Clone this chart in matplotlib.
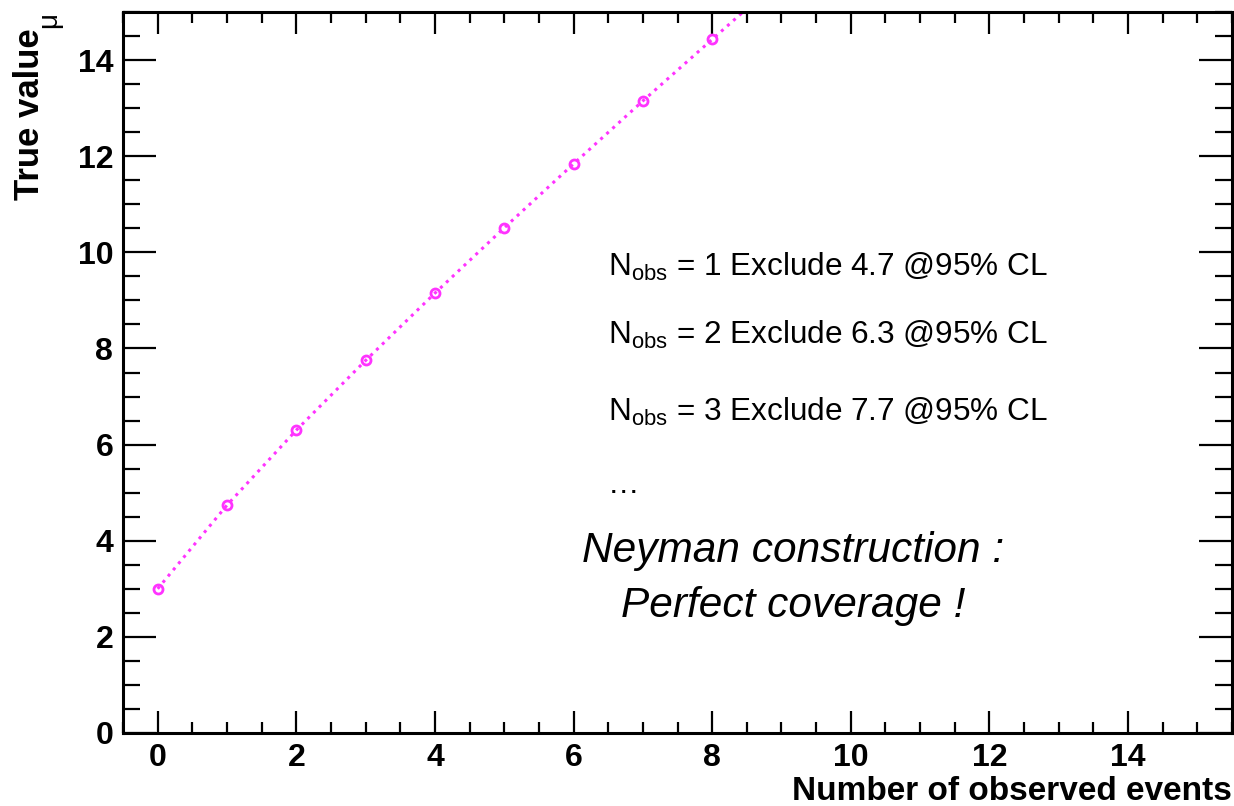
import matplotlib
matplotlib.use("Agg")
import matplotlib.pyplot as plt
from matplotlib.ticker import MultipleLocator

plt.rcParams['font.family'] = ['Liberation Sans', 'DejaVu Sans']
plt.rcParams['mathtext.fontset'] = 'custom'
plt.rcParams['mathtext.rm'] = 'Liberation Sans'
plt.rcParams['mathtext.it'] = 'Liberation Sans:italic'
plt.rcParams['mathtext.bf'] = 'Liberation Sans:bold'

# Data: observed events vs 95% CL upper limit on true value mu
n_obs = [0, 1, 2, 3, 4, 5, 6, 7, 8, 9, 10]
mu_upper = [3.00, 4.74, 6.30, 7.75, 9.15, 10.51, 11.84, 13.15, 14.43, 15.71, 16.96]

x_ticks = [0, 2, 4, 6, 8, 10, 12, 14]
y_ticks = [0, 2, 4, 6, 8, 10, 12, 14]

notes = [
    r"N$_{\mathrm{obs}}$ = 1 Exclude 4.7 @95% CL",
    r"N$_{\mathrm{obs}}$ = 2 Exclude 6.3 @95% CL",
    r"N$_{\mathrm{obs}}$ = 3 Exclude 7.7 @95% CL",
    "\u2026",
]
note_y = [9.5, 8.1, 6.5, 5.0]

W, H = 1234, 806
fig = plt.figure(figsize=(W / 100, H / 100), dpi=100)
ax = fig.add_axes([123 / W, (H - 733) / H, (1232 - 123) / W, (733 - 12) / H])

color = '#ff33ff'
ax.plot(n_obs, mu_upper, linestyle=':', color=color, lw=2.2, zorder=2)
ax.plot(n_obs, mu_upper, linestyle='none', marker='o', ms=6.5, mfc='none',
        mec=color, mew=2, zorder=3)

ax.set_xlim(-0.5, 15.5)
ax.set_ylim(0, 15)
ax.set_xticks(x_ticks)
ax.set_yticks(y_ticks)
ax.xaxis.set_minor_locator(MultipleLocator(0.5))
ax.yaxis.set_minor_locator(MultipleLocator(0.5))

for s in ax.spines.values():
    s.set_linewidth(2.2)

ax.tick_params(axis='both', which='both', direction='in', top=True, right=True,
               width=1.6, color='black')
ax.tick_params(axis='x', which='major', length=16, pad=7)
ax.tick_params(axis='x', which='minor', length=8)
ax.tick_params(axis='y', which='major', length=24, pad=7)
ax.tick_params(axis='y', which='minor', length=12)
for lab in ax.get_xticklabels() + ax.get_yticklabels():
    lab.set_fontsize(23)
    lab.set_fontweight('bold')

for t, y in zip(notes, note_y):
    ax.text(6.5, y, t, fontsize=22.7, ha='left', va='baseline')

ax.text(9.17, 3.55, "Neyman construction :", fontsize=30.5, style='italic',
        ha='center', va='baseline')
ax.text(9.17, 2.42, "Perfect coverage !", fontsize=30.5, style='italic',
        ha='center', va='baseline')

fig.text(1232 / W, 1 - 800 / H, "Number of observed events", fontsize=24,
         fontweight='bold', ha='right', va='baseline')
fig.text(46 / W, 1 - 200 / H, "True value", fontsize=25, fontweight='bold',
         rotation=90, ha='right', va='bottom')
fig.text(36 / W, 1 - 12 / H, "\u03bc", fontsize=20, rotation=90,
         ha='left', va='top')

fig.savefig("out.png", dpi=100)
